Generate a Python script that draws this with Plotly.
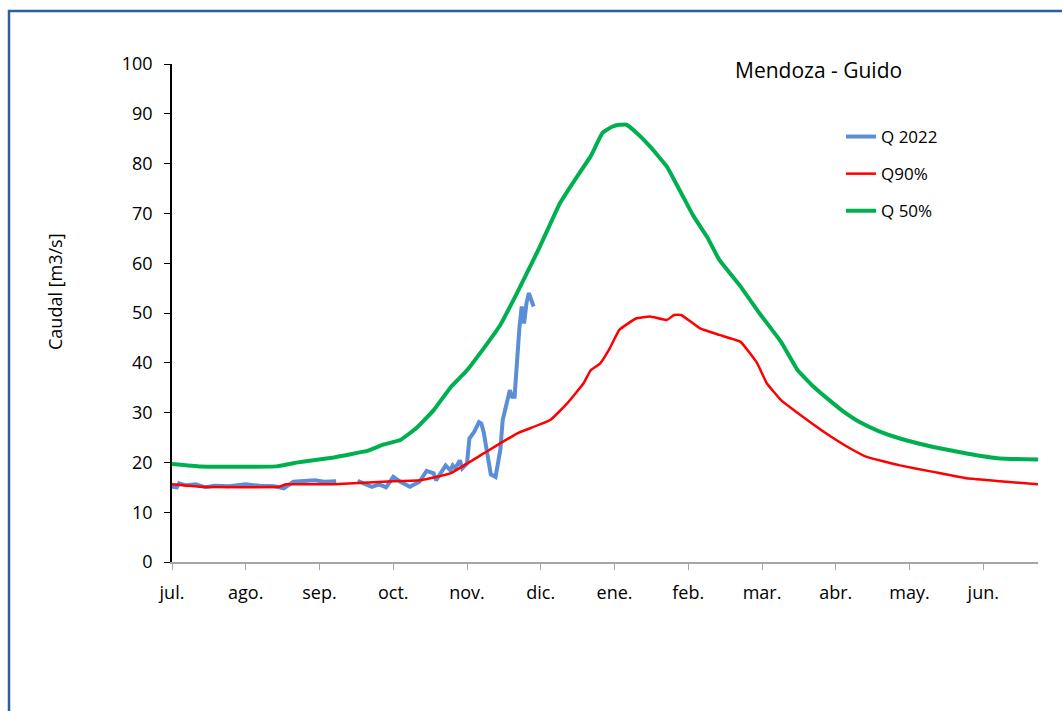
import plotly.graph_objects as go

# Season axis: day index counted from 1 July (0 .. 364), one tick every 31 days
month_ticks = [0, 31, 62, 93, 124, 155, 186, 217, 248, 279, 310, 341]
month_labels = ["jul.", "ago.", "sep.", "oct.", "nov.", "dic.",
                "ene.", "feb.", "mar.", "abr.", "may.", "jun."]

# Q 2022 observed daily flow (None = missing days)
day_q2022 = [0, 2, 3, 6, 10, 14, 18, 24, 31, 37, 43, 47, 51, 56, 60, 64, 69, 70,
             78, 81, 84, 87, 90, 93, 96, 100, 104, 107, 110, 111, 113, 115, 117,
             118, 119, 121, 122, 124, 125, 127, 129, 130, 131, 132, 133, 134, 135,
             136, 138, 139, 141, 142, 143, 144, 146, 147, 148, 149, 150, 151, 152]
q2022 = [15.1, 15.0, 15.8, 15.4, 15.6, 15.0, 15.3, 15.2, 15.6, 15.3, 15.2, 14.8,
         16.1, 16.2, 16.4, 16.1, 16.2, None,
         16.3, 15.6, 15.1, 15.6, 15.0, 17.1, 16.1, 15.1, 16.1, 18.3, 17.8, 16.4,
         17.8, 19.4, 18.4, 19.4, 18.8, 20.4, 18.8, 19.8, 24.8, 26.1, 28.1, 27.8,
         26.1, 22.5, 20.4, 17.6, 17.3, 17.1, 22.5, 28.5, 32.5, 34.5, 33.2, 33.2,
         46.9, 51.3, 47.9, 52.0, 54.0, 52.6, 51.3]

# Q90% exceedance flow
day_q90 = [0, 12, 45, 48, 68, 93, 104, 117, 131, 145, 159, 166, 173, 176, 180,
           184, 188, 195, 201, 208, 211, 214, 222, 230, 239, 246, 250, 256, 267,
           275, 284, 292, 306, 320, 334, 348, 364]
q90 = [15.6, 15.1, 15.1, 15.6, 15.6, 16.2, 16.4, 17.8, 21.8, 25.8, 28.5, 31.8,
       35.9, 38.5, 39.9, 42.9, 46.6, 48.9, 49.3, 48.6, 49.6, 49.6, 46.9, 45.6,
       44.2, 39.9, 35.9, 32.5, 28.5, 25.8, 23.1, 21.1, 19.4, 18.1, 16.8, 16.2,
       15.6]

# Q 50% (median) flow
day_q50 = [0, 12, 44, 54, 68, 82, 89, 96, 103, 110, 117, 124, 131, 138, 145,
           154, 163, 169, 176, 181, 185, 188, 191, 195, 201, 208, 214, 219, 225,
           230, 239, 247, 256, 263, 269, 275, 282, 289, 297, 306, 320, 334, 348,
           364]
q50 = [19.7, 19.2, 19.2, 20.1, 21.0, 22.3, 23.6, 24.5, 27.0, 30.5, 35.0, 38.5,
       42.9, 47.6, 54.0, 62.7, 72.0, 76.5, 81.5, 86.2, 87.4, 87.8, 87.8, 86.3,
       83.4, 79.4, 74.1, 69.6, 65.2, 60.7, 55.3, 49.9, 44.2, 38.5, 35.5, 33.0,
       30.3, 28.1, 26.3, 24.8, 23.1, 21.8, 20.8, 20.6]

FONT = "Open Sans, Noto Sans, sans-serif"
W, H = 1062, 711
ML, MR, MT, MB = 172, 24, 64, 149
PW, PH = W - ML - MR, H - MT - MB


def px_x(p):
    return (p - ML) / PW


def px_y(p):
    return (H - MB - p) / PH


fig = go.Figure()
fig.add_trace(go.Scatter(x=day_q2022, y=q2022, name="Q 2022", mode="lines",
                         line=dict(color="#5B8ED6", width=4),
                         connectgaps=False, legendgroup="a"))
fig.add_trace(go.Scatter(x=day_q90, y=q90, name="Q90%", mode="lines",
                         line=dict(color="#FF0000", width=2.5, shape="spline",
                                   smoothing=0.3),
                         legendgroup="b"))
fig.add_trace(go.Scatter(x=day_q50, y=q50, name="Q 50%", mode="lines",
                         line=dict(color="#00B050", width=4, shape="spline",
                                   smoothing=0.3),
                         legendgroup="c"))

fig.update_layout(
    width=W, height=H,
    margin=dict(l=ML, r=MR, t=MT, b=MB, pad=0),
    paper_bgcolor="white", plot_bgcolor="white",
    font=dict(family=FONT, size=18, color="black"),
    showlegend=True,
    legend=dict(x=px_x(841), y=px_y(119), xanchor="left", yanchor="top",
                bgcolor="rgba(0,0,0,0)", font=dict(size=17),
                tracegroupgap=12, itemwidth=30),
    xaxis=dict(range=[0, 364], tickmode="array", tickvals=month_ticks,
               ticktext=month_labels, ticks="outside", ticklen=6,
               tickcolor="#A6A6A6", showline=True, linecolor="#A6A6A6",
               linewidth=1.5, showgrid=False, zeroline=False,
               ticklabelstandoff=8),
    yaxis=dict(range=[0, 100], dtick=10, ticks="outside", ticklen=6,
               tickcolor="black", showline=True, linecolor="black",
               linewidth=1.5, showgrid=False, zeroline=False,
               ticklabelstandoff=8),
    annotations=[
        dict(text="Mendoza - Guido", xref="paper", yref="paper",
             x=px_x(733), y=px_y(70), xanchor="left", yanchor="middle",
             showarrow=False, font=dict(size=21)),
        dict(text="Caudal [m3/s]", xref="paper", yref="paper",
             x=px_x(55), y=px_y(291), xanchor="center", yanchor="middle",
             textangle=-90, showarrow=False, font=dict(size=18)),
    ],
    shapes=[
        dict(type="rect", xref="paper", yref="paper",
             x0=px_x(9), x1=px_x(1075), y0=px_y(725), y1=px_y(11),
             line=dict(color="#2E5E9B", width=2.5), layer="above"),
    ],
)

fig.write_html("out.html")
